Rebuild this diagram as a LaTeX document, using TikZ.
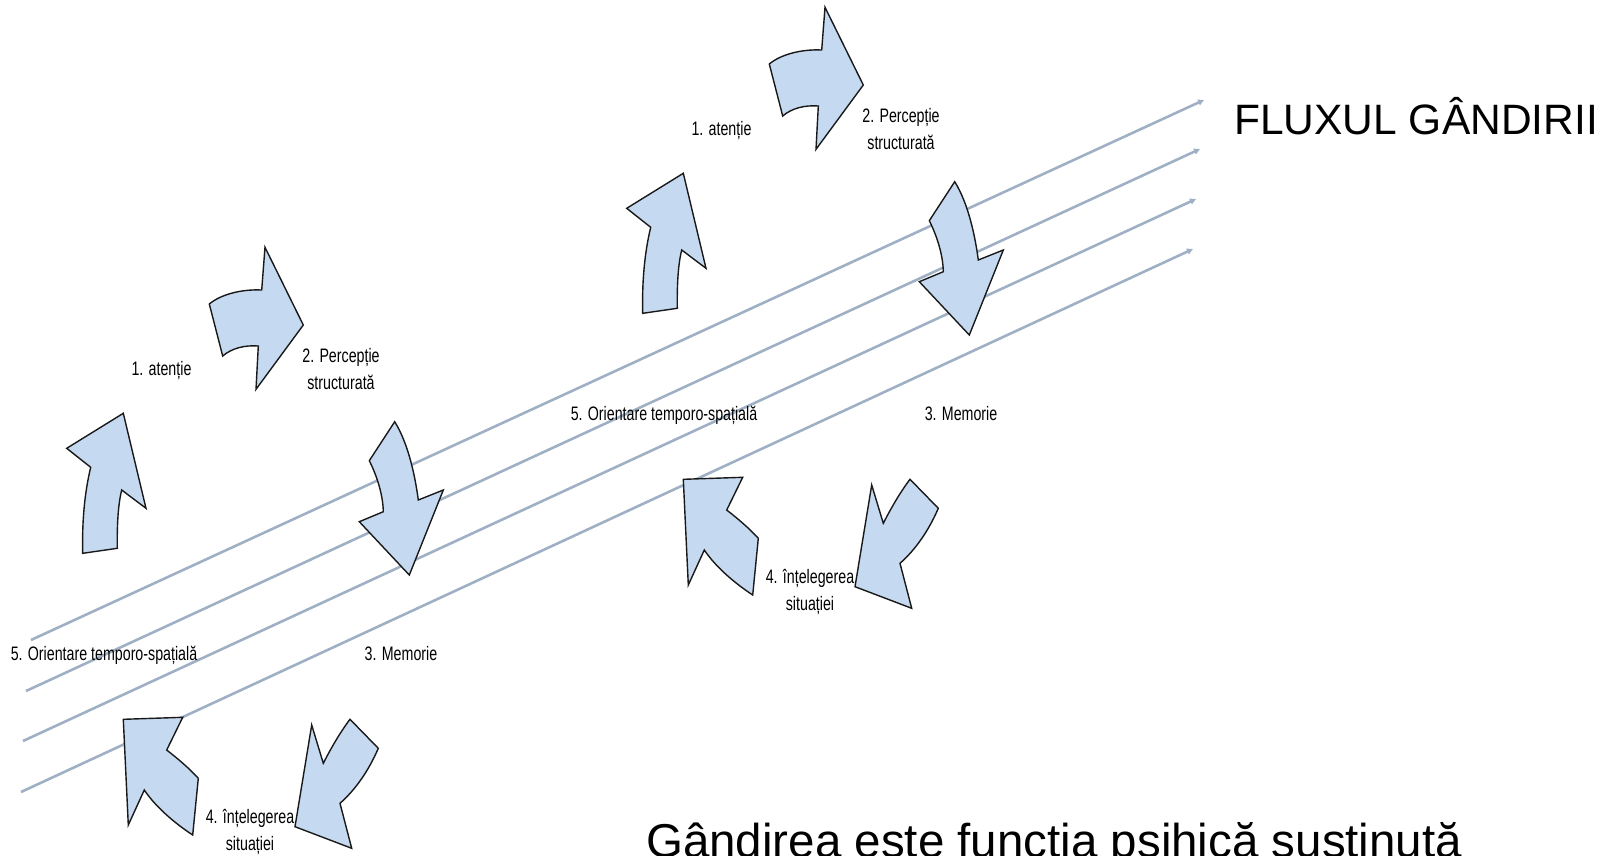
\documentclass[tikz,border=0pt]{standalone}
\usepackage{fontspec}
\setmainfont{Liberation Sans}
\newfontfamily\narrowfont[FakeStretch=0.73]{Liberation Sans}
\usetikzlibrary{arrows.meta}
\definecolor{flowline}{RGB}{160,176,196}
\definecolor{arrowfill}{RGB}{197,217,241}

\begin{document}
\begin{tikzpicture}[x=1pt, y=-1pt,
    flux/.style={draw=flowline, line width=2.6pt, -{Triangle[length=6pt,width=6pt]}},
    bigarrow/.style={draw=black!90, fill=arrowfill, line width=1.4pt, line join=miter},
    lbl/.style={font=\narrowfont\fontsize{19.5}{27}\selectfont, align=center, inner sep=0pt, anchor=base}]
    \useasboundingbox (0,0) rectangle (1613,855);
    \clip (0,0) rectangle (1613,855);

    % fluxul gandirii
    \coordinate (s1) at (31,640);  \coordinate (e1) at (1204,100);
    \coordinate (s2) at (26,691);  \coordinate (e2) at (1200,149);
    \coordinate (s3) at (23,741);  \coordinate (e3) at (1196,199);
    \coordinate (s4) at (21,792);  \coordinate (e4) at (1193,249);
    \foreach \i in {1,...,4}
        \draw[flux] (s\i) -- (e\i);

    \node[font=\fontsize{42.5}{50}\selectfont, anchor=base west, inner sep=0pt] (titlu) at (1234,134) {FLUXUL GÂNDIRII};

    % cele doua cicluri
    \foreach \c/\dx/\dy in {1/0/0, 2/560/-240} {
        \begin{scope}[shift={(\dx,\dy)}]
            \draw[bigarrow] (82.7,553.3) -- (117.3,548.3) .. controls (117,525) and (118,505) .. (121.7,490)
                -- (146,508.3) -- (123.3,413.3) -- (66.7,448.3) -- (90.7,467.3)
                .. controls (84,495) and (82,525) .. (82.7,553.3) -- cycle;
            \draw[bigarrow] (209.3,304) -- (222.7,356) .. controls (232,348) and (245,345) .. (258.3,346)
                -- (256,389.3) -- (303.3,325) -- (265,247.3) -- (261.7,290)
                .. controls (240,289) and (220,295) .. (209.3,304) -- cycle;
            \draw[bigarrow] (394.7,421.7) -- (369.3,460.7) .. controls (377,476) and (383,495) .. (383.3,511.7)
                -- (359.3,521.7) -- (409.3,575) -- (443.3,490) -- (418.3,500)
                .. controls (415,475) and (408,443) .. (394.7,421.7) -- cycle;
            \draw[bigarrow] (350,719.3) -- (378.3,748.3) .. controls (368,772) and (355,790) .. (340,803.3)
                -- (351.7,848.3) -- (295,826.7) -- (311.7,725) -- (323.3,763.3)
                .. controls (331,748) and (341,731) .. (350,719.3) -- cycle;
            \draw[bigarrow] (123.3,719.3) -- (182.7,717.3) -- (166.7,750)
                .. controls (177,758) and (189,768) .. (198.3,778.3) -- (192.7,835)
                .. controls (173,822) and (155,806) .. (144.3,790) -- (128.3,825) -- cycle;

            \node[lbl] (atentie\c) at (161.5,375) {1. atenție};
            \node[lbl] (perceptie\c) at (341,389) {2. Percepție\\structurată};
            \node[lbl] (memorie\c) at (401,660) {3. Memorie};
            \node[lbl] (intelegere\c) at (250,850) {4. înțelegerea\\situației};
            \node[lbl] (orientare\c) at (104,660) {5. Orientare temporo-spațială};
        \end{scope}
    }

    \node[font=\fontsize{47.5}{55}\selectfont, anchor=base west, inner sep=0pt] (definitie) at (646,857) {Gândirea este funcția psihică susținută};
\end{tikzpicture}
\end{document}
